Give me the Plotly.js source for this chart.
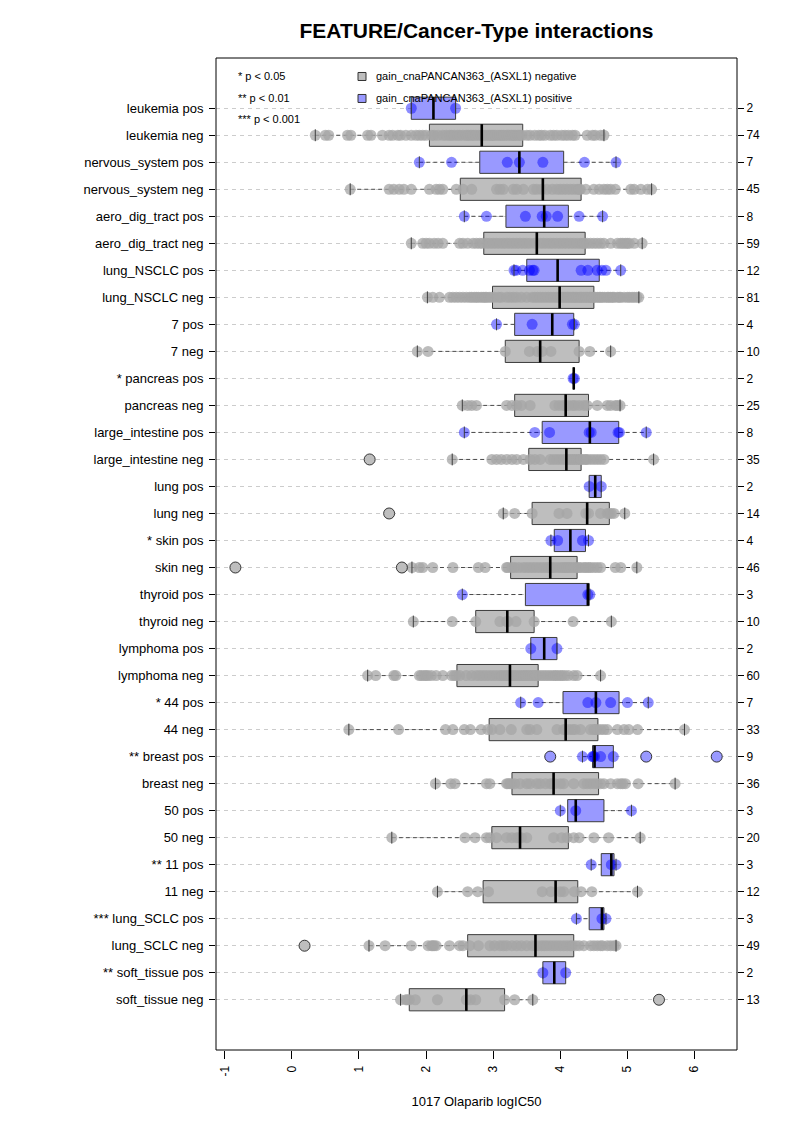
<!DOCTYPE html>
<html><head><meta charset="utf-8">
<script src="https://cdn.plot.ly/plotly-3.0.1.min.js"></script>
<style>html,body{margin:0;padding:0;background:#fff}</style>
</head><body><div id="chart" style="width:793px;height:1122px"></div>
<script>
// ---------- data (top row first) ----------
const rowLabels = ["leukemia pos","leukemia neg","nervous_system pos","nervous_system neg","aero_dig_tract pos","aero_dig_tract neg","lung_NSCLC pos","lung_NSCLC neg","7 pos","7 neg","* pancreas pos","pancreas neg","large_intestine pos","large_intestine neg","lung pos","lung neg","* skin pos","skin neg","thyroid pos","thyroid neg","lymphoma pos","lymphoma neg","* 44 pos","44 neg","** breast pos","breast neg","50 pos","50 neg","** 11 pos","11 neg","*** lung_SCLC pos","lung_SCLC neg","** soft_tissue pos","soft_tissue neg"];
const counts = [2,74,7,45,8,59,12,81,4,10,2,25,8,35,2,14,4,46,3,10,2,60,7,33,9,36,3,20,3,12,3,49,2,13];
const isPositive = [1,0,1,0,1,0,1,0,1,0,1,0,1,0,1,0,1,0,1,0,1,0,1,0,1,0,1,0,1,0,1,0,1,0];
const q1  = [1.78,2.05,2.80,2.51,3.19,2.86,3.50,2.99,3.32,3.18,4.20,3.32,3.73,3.53,4.43,3.58,3.91,3.26,3.48,2.74,3.56,2.46,4.04,2.94,4.48,3.28,4.11,2.98,4.61,2.85,4.43,2.62,3.74,1.75];
const med = [2.11,2.83,3.39,3.74,3.76,3.65,3.96,3.99,3.88,3.70,4.20,4.08,4.44,4.09,4.52,4.40,4.15,3.85,4.41,3.21,3.76,3.25,4.53,4.08,4.51,3.90,4.23,3.40,4.76,3.93,4.62,3.63,3.91,2.60];
const q3  = [2.44,3.44,4.05,4.31,4.12,4.37,4.58,4.50,4.20,4.28,4.20,4.42,4.87,4.31,4.61,4.73,4.375,4.25,4.43,3.61,3.95,3.67,4.875,4.56,4.79,4.57,4.65,4.12,4.80,4.26,4.65,4.20,4.08,3.17];
const whiskerLo = [1.78,0.35,1.90,0.87,2.57,1.78,3.31,2.02,3.05,1.87,4.19,2.54,2.57,2.39,4.43,3.15,3.86,1.79,2.54,1.81,3.56,1.13,3.41,0.85,4.33,2.14,4.00,1.49,4.46,2.17,4.24,1.15,3.74,1.62];
const whiskerHi = [2.44,4.65,4.83,5.36,4.63,5.22,4.90,5.17,4.21,4.75,4.21,4.89,5.28,5.39,4.61,4.96,4.42,5.14,4.44,4.76,3.95,4.60,5.31,5.85,4.79,5.71,5.06,5.19,4.83,5.15,4.68,4.83,4.08,3.59];

const leukemiaPos = [1.78,2.44];
const leukemiaNeg = [0.35,0.5,0.55,0.83,0.88,1.13,1.18,1.35,1.45,1.5,1.58,1.62,1.7,1.78,1.85,1.9,1.95,2.0,2.08,2.12,2.18,2.25,2.3,2.35,2.38,2.42,2.47,2.5,2.55,2.6,2.63,2.67,2.7,2.74,2.78,2.82,2.85,2.88,2.92,2.95,2.98,3.0,3.03,3.07,3.1,3.13,3.16,3.2,3.23,3.27,3.3,3.33,3.37,3.4,3.43,3.5,3.55,3.62,3.68,3.72,3.77,3.85,3.9,3.95,4.02,4.07,4.12,4.18,4.22,4.4,4.48,4.52,4.6,4.65];
const nervousPos = [1.90,2.38,3.21,3.39,3.74,4.36,4.83];
const nervousNeg = [0.87,1.45,1.52,1.6,1.67,1.78,2.05,2.15,2.2,2.25,2.45,2.55,2.68,3.05,3.1,3.15,3.3,3.35,3.45,3.6,3.65,3.72,3.8,3.88,3.95,4.0,4.05,4.1,4.15,4.2,4.25,4.28,4.3,4.38,4.5,4.58,4.65,4.7,4.75,4.82,5.05,5.1,5.2,5.3,5.36];
const aeroPos = [2.57,2.90,3.48,3.73,3.79,3.96,4.28,4.63];
const aeroNeg = [1.78,1.95,2.0,2.05,2.12,2.18,2.25,2.5,2.55,2.62,2.7,2.75,2.8,2.84,2.9,2.95,3.0,3.05,3.1,3.15,3.2,3.25,3.3,3.35,3.4,3.45,3.5,3.55,3.62,3.7,3.75,3.8,3.85,3.9,3.95,4.0,4.05,4.1,4.15,4.2,4.25,4.3,4.34,4.36,4.4,4.45,4.5,4.55,4.6,4.65,4.75,4.85,4.9,4.93,4.97,5.0,5.03,5.1,5.22];
const nsclcPos = [3.31,3.34,3.44,3.54,3.59,3.61,4.31,4.41,4.55,4.62,4.68,4.90];
const nsclcNeg = [2.02,2.1,2.2,2.35,2.4,2.45,2.5,2.55,2.6,2.65,2.68,2.72,2.75,2.78,2.82,2.85,2.88,2.9,2.94,2.97,3.02,3.08,3.12,3.2,3.25,3.3,3.35,3.42,3.5,3.58,3.62,3.66,3.7,3.74,3.78,3.82,3.86,3.9,3.94,3.97,4.01,4.04,4.07,4.1,4.12,4.15,4.18,4.2,4.23,4.25,4.28,4.3,4.32,4.35,4.38,4.4,4.43,4.45,4.47,4.49,4.52,4.55,4.58,4.6,4.63,4.66,4.7,4.72,4.75,4.78,4.8,4.85,4.88,4.9,4.95,5.0,5.03,5.07,5.1,5.14,5.17];
const sevenPos = [3.05,3.58,4.18,4.21];
const sevenNeg = [1.87,2.03,3.18,3.54,3.66,3.73,3.86,4.28,4.44,4.75];
const pancreasPos = [4.19,4.21];
const pancreasNeg = [2.54,2.62,2.68,2.75,3.2,3.28,3.35,3.42,3.55,3.92,3.98,4.04,4.08,4.12,4.18,4.22,4.28,4.35,4.40,4.55,4.7,4.75,4.82,4.85,4.89];
const largeIntPos = [2.57,3.62,3.84,4.43,4.46,4.86,4.88,5.28];
const largeIntNeg = [1.16,2.39,2.98,3.05,3.12,3.2,3.28,3.35,3.45,3.55,3.62,3.7,3.85,3.9,3.95,4.0,4.05,4.09,4.12,4.15,4.18,4.21,4.24,4.27,4.3,4.31,4.35,4.38,4.4,4.45,4.5,4.55,4.6,4.65,5.39];
const lungPos = [4.43,4.61];
const lungNeg = [1.45,3.15,3.32,3.58,3.98,4.1,4.38,4.42,4.6,4.7,4.73,4.76,4.8,4.96];
const skinPos = [3.86,3.96,4.33,4.42];
const skinNeg = [-0.84,1.64,1.79,1.9,1.95,2.1,2.4,2.78,2.88,3.2,3.22,3.28,3.32,3.38,3.45,3.5,3.55,3.6,3.65,3.7,3.75,3.8,3.83,3.87,3.9,3.95,4.0,4.04,4.07,4.1,4.13,4.16,4.2,4.23,4.27,4.3,4.35,4.38,4.42,4.45,4.5,4.55,4.6,4.82,4.9,5.14];
const thyroidPos = [2.54,4.41,4.44];
const thyroidNeg = [1.81,2.39,2.74,3.10,3.20,3.22,3.34,3.61,4.19,4.76];
const lymphomaPos = [3.56,3.95];
const lymphomaNeg = [1.13,1.25,1.52,1.55,1.9,1.93,1.97,2.0,2.03,2.08,2.15,2.25,2.38,2.42,2.45,2.5,2.6,2.68,2.75,2.8,2.85,2.9,2.95,3.0,3.05,3.1,3.13,3.17,3.2,3.23,3.27,3.3,3.33,3.36,3.39,3.42,3.45,3.48,3.5,3.53,3.56,3.59,3.62,3.64,3.66,3.7,3.74,3.78,3.82,3.86,3.9,3.93,3.96,4.0,4.03,4.07,4.12,4.2,4.25,4.6];
const c44Pos = [3.41,3.67,4.41,4.53,4.75,5.0,5.31];
const c44Neg = [0.85,1.59,2.29,2.4,2.57,2.66,2.82,2.92,2.98,3.1,3.27,3.5,3.55,3.65,3.95,4.05,4.08,4.13,4.18,4.22,4.3,4.45,4.5,4.52,4.55,4.6,4.65,4.7,4.85,4.95,5.02,5.15,5.85];
const breastPos = [3.85,4.33,4.48,4.49,4.51,4.6,4.79,5.28,6.33];
const breastNeg = [2.14,2.37,2.43,2.9,2.95,3.2,3.22,3.25,3.27,3.32,3.4,3.5,3.55,3.65,3.7,3.78,3.85,3.88,3.92,4.0,4.05,4.2,4.35,4.4,4.45,4.5,4.55,4.6,4.65,4.75,4.85,4.9,4.93,4.97,5.16,5.71];
const c50Pos = [4.00,4.23,5.06];
const c50Neg = [1.49,2.58,2.73,2.9,2.95,3.05,3.2,3.28,3.35,3.38,3.42,3.5,3.9,4.02,4.1,4.2,4.28,4.5,4.72,5.19];
const c11Pos = [4.46,4.76,4.83];
const c11Neg = [2.17,2.62,2.77,2.93,3.73,3.86,4.0,4.05,4.21,4.31,4.47,5.15];
const sclcPos = [4.24,4.62,4.68];
const sclcNeg = [0.19,1.15,1.39,1.78,2.03,2.08,2.1,2.12,2.15,2.35,2.5,2.55,2.65,2.78,2.95,3.02,3.1,3.15,3.2,3.28,3.35,3.42,3.5,3.58,3.63,3.67,3.72,3.76,3.8,3.85,3.9,3.95,4.0,4.05,4.1,4.15,4.18,4.23,4.28,4.35,4.45,4.5,4.55,4.6,4.63,4.7,4.75,4.8,4.83];
const softPos = [3.74,4.08];
const softNeg = [1.62,1.70,1.72,1.75,1.84,2.17,2.60,2.66,2.74,3.17,3.32,3.59,5.47];

const rowPoints = [leukemiaPos,leukemiaNeg,nervousPos,nervousNeg,aeroPos,aeroNeg,nsclcPos,nsclcNeg,sevenPos,sevenNeg,pancreasPos,pancreasNeg,largeIntPos,largeIntNeg,lungPos,lungNeg,skinPos,skinNeg,thyroidPos,thyroidNeg,lymphomaPos,lymphomaNeg,c44Pos,c44Neg,breastPos,breastNeg,c50Pos,c50Neg,c11Pos,c11Neg,sclcPos,sclcNeg,softPos,softNeg];

const xTicks = [-1,0,1,2,3,4,5,6];
const xTitle = "1017 Olaparib logIC50";
const chartTitle = "FEATURE/Cancer-Type interactions";
const sigLegend = ["* p < 0.05","** p < 0.01","*** p < 0.001"];
const groupLegend = ["gain_cnaPANCAN363_(ASXL1) negative","gain_cnaPANCAN363_(ASXL1) positive"];

// ---------- styling ----------
const FONT = "Liberation Sans, Arial, Helvetica, sans-serif";
const NEG_FILL = "#bebebe", POS_FILL = "#9999ff";
const NEG_PT = "rgba(165,165,165,0.75)", POS_PT = "rgba(0,0,255,0.45)";
const W = 793, H = 1122, L = 216, R = 737, T = 57.5, B = 1050;

const nRows = rowLabels.length;
const pos = rowLabels.map((_, i) => nRows - i);
const idxOf = flag => rowLabels.map((_, i) => i).filter(i => isPositive[i] === flag);

const traces = [];
function boxTrace(flag, fill) {
  const ix = idxOf(flag);
  return {type:'box', orientation:'h', y: ix.map(i=>pos[i]), q1: ix.map(i=>q1[i]), median: ix.map(i=>med[i]),
    q3: ix.map(i=>q3[i]), lowerfence: ix.map(i=>q1[i]), upperfence: ix.map(i=>q3[i]),
    fillcolor: fill, line:{color:'#3c3c3c', width:1}, width:0.82, whiskerwidth:0,
    boxpoints:false, hoverinfo:'skip', showlegend:false};
}
traces.push(boxTrace(0, NEG_FILL));
traces.push(boxTrace(1, POS_FILL));

// whiskers (dashed)
const wx = [], wy = [];
for (let i = 0; i < nRows; i++) {
  wx.push(whiskerLo[i], q1[i], null, q3[i], whiskerHi[i], null);
  wy.push(pos[i], pos[i], null, pos[i], pos[i], null);
}
traces.push({type:'scatter', mode:'lines', x:wx, y:wy, connectgaps:false,
  line:{color:'#4a4a4a', width:1, dash:'4px,3px'}, hoverinfo:'skip', showlegend:false});

// points (non-outliers) and outliers
function pointSets(flag) {
  const px=[],py=[],ox=[],oy=[];
  idxOf(flag).forEach(i => {
    rowPoints[i].forEach(v => {
      if (v < whiskerLo[i]-1e-9 || v > whiskerHi[i]+1e-9) { ox.push(v); oy.push(pos[i]); }
      else { px.push(v); py.push(pos[i]); }
    });
  });
  return {px,py,ox,oy};
}
const negS = pointSets(0), posS = pointSets(1);
traces.push({type:'scatter', mode:'markers', x:negS.px, y:negS.py, marker:{size:11, color:NEG_PT, line:{width:0}}, hoverinfo:'skip', showlegend:false});
traces.push({type:'scatter', mode:'markers', x:posS.px, y:posS.py, marker:{size:11, color:POS_PT, line:{width:0}}, hoverinfo:'skip', showlegend:false});

// staples
const sx = [], sy = [];
for (let i = 0; i < nRows; i++) { sx.push(whiskerLo[i], whiskerHi[i]); sy.push(pos[i], pos[i]); }
traces.push({type:'scatter', mode:'markers', x:sx, y:sy, marker:{symbol:'line-ns', size:8.5, line:{color:'#3c3c3c', width:1}}, hoverinfo:'skip', showlegend:false});

// medians
traces.push({type:'scatter', mode:'markers', x:med, y:pos, marker:{symbol:'line-ns', size:15.8, line:{color:'#000', width:2.6}}, hoverinfo:'skip', showlegend:false});

// outliers
traces.push({type:'scatter', mode:'markers', x:negS.ox, y:negS.oy, marker:{size:11, color:NEG_FILL, line:{color:'#222', width:0.9}}, hoverinfo:'skip', showlegend:false});
traces.push({type:'scatter', mode:'markers', x:posS.ox, y:posS.oy, marker:{size:11, color:POS_FILL, line:{color:'#222', width:0.9}}, hoverinfo:'skip', showlegend:false});

// dummy for right axis
traces.push({type:'scatter', mode:'markers', x:[med[0]], y:[pos[0]], yaxis:'y2', marker:{opacity:0}, hoverinfo:'skip', showlegend:false});

const yRange = [-0.86, nRows + 1.86];
const px2x = p => (p - L) / (R - L);
const px2y = p => (B - p) / (B - T);

const annotations = [];
const sigY = [76, 97.5, 118.5];
sigLegend.forEach((t, k) => annotations.push({xref:'paper', yref:'paper', x:px2x(236), y:px2y(sigY[k]), xanchor:'left', yanchor:'middle', text:t, showarrow:false, font:{family:FONT, size:11, color:'#000'}}));
const grpY = [76, 98];
groupLegend.forEach((t, k) => annotations.push({xref:'paper', yref:'paper', x:px2x(374), y:px2y(grpY[k]), xanchor:'left', yanchor:'middle', text:t, showarrow:false, font:{family:FONT, size:11, color:'#000'}}));

const shapes = [
  {type:'rect', xref:'paper', yref:'paper', x0:0, x1:1, y0:0, y1:1, line:{color:'#000', width:1}, layer:'above'},
  {type:'rect', xref:'paper', yref:'paper', x0:px2x(358), x1:px2x(366), y0:px2y(grpY[0]-4), y1:px2y(grpY[0]+4), fillcolor:NEG_FILL, line:{color:'#333', width:1}},
  {type:'rect', xref:'paper', yref:'paper', x0:px2x(358), x1:px2x(366), y0:px2y(grpY[1]-4), y1:px2y(grpY[1]+4), fillcolor:POS_FILL, line:{color:'#333', width:1}}
];

const layout = {
  width: W, height: H,
  margin: {l:L, r:W-R, t:T, b:H-B, pad:0},
  paper_bgcolor:'#fff', plot_bgcolor:'#fff',
  font:{family:FONT, color:'#000'},
  boxmode:'overlay',
  showlegend:false,
  title:{text:'<b>'+chartTitle+'</b>', font:{family:FONT, size:21, color:'#000'}, x:0.5, xref:'paper', xanchor:'center', y:1-31/H, yref:'container', yanchor:'middle'},
  xaxis:{range:[-1.129, 6.632], tickvals:xTicks, ticktext:xTicks.map(String), tickangle:-90, ticks:'outside', ticklen:8, tickcolor:'#000', tickwidth:1,
    showgrid:false, zeroline:false, showline:false, tickfont:{family:FONT, size:12, color:'#000'}, ticklabelstandoff:2,
    title:{text:xTitle, font:{family:FONT, size:13, color:'#000'}, standoff:21}, automargin:false},
  yaxis:{range:yRange, tickvals:pos, ticktext:rowLabels, ticks:'outside', ticklen:6, tickcolor:'#000', tickwidth:1,
    showgrid:true, gridcolor:'#cccccc', griddash:'4px,4px', gridwidth:1, zeroline:false, showline:false, ticklabelstandoff:3,
    tickfont:{family:FONT, size:13, color:'#000'}, automargin:false},
  yaxis2:{range:yRange, overlaying:'y', side:'right', tickvals:pos, ticktext:counts.map(String), ticks:'outside', ticklen:6, tickcolor:'#000', tickwidth:1,
    showgrid:false, zeroline:false, showline:false, tickfont:{family:FONT, size:12, color:'#000'}, automargin:false},
  annotations, shapes
};

Plotly.newPlot('chart', traces, layout, {staticPlot:true, displayModeBar:false});
</script></body></html>
